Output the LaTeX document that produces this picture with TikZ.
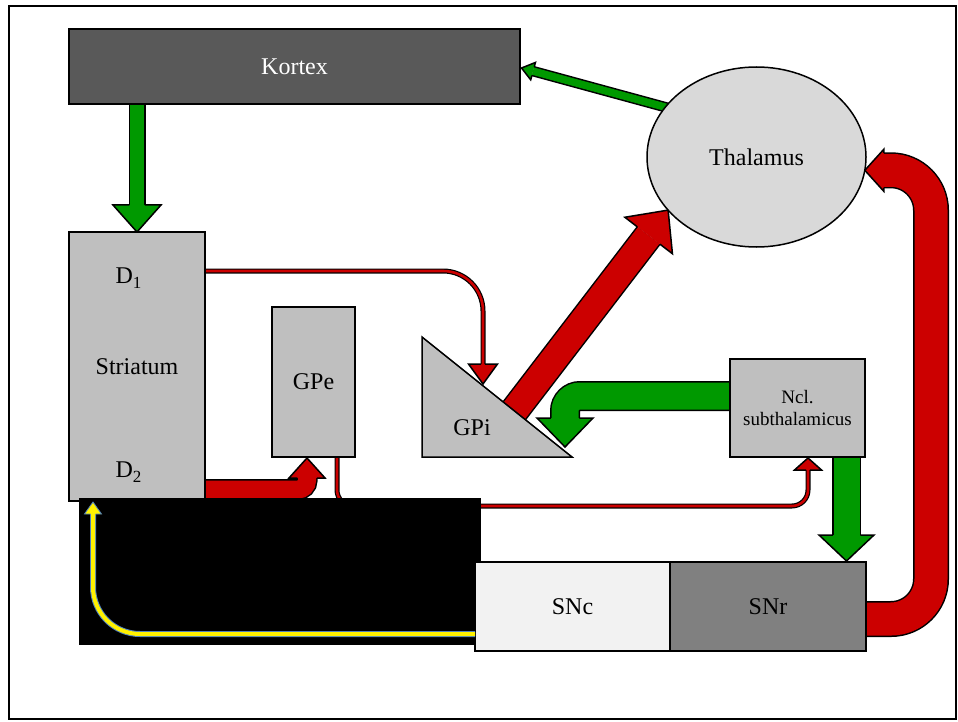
\documentclass[tikz,border=0pt]{standalone}
\usepackage{fontspec}
\setmainfont{Liberation Serif}
\usetikzlibrary{shapes.geometric,calc}
\pgfdeclarelayer{bg}
\pgfdeclarelayer{fg}
\pgfsetlayers{bg,main,fg}
\definecolor{kred}{HTML}{CC0000}
\definecolor{kgreen}{HTML}{009900}
\definecolor{boxgray}{HTML}{BFBFBF}
\definecolor{kortexgray}{HTML}{595959}
\definecolor{thalgray}{HTML}{D9D9D9}
\definecolor{sncgray}{HTML}{F2F2F2}
\definecolor{snrgray}{HTML}{808080}
\definecolor{yedge}{HTML}{4F81BD}
\newcommand{\labfont}{\fontsize{24}{28}\selectfont}
\newcommand{\nclfont}{\fontsize{19}{22}\selectfont}
\newcommand{\dsub}[1]{\raisebox{-5pt}{\fontsize{17}{20}\selectfont #1}}
% #1 fill colour, #2 head base, #3 tip, #4 shaft half width, #5 head half width
\newcommand{\ahead}[5]{\filldraw[fill=#1,draw=black,line width=1.5pt,line join=miter]
  ($(#2)!#4!90:(#3)$) -- ($(#2)!#5!90:(#3)$) -- (#3) -- ($(#2)!#5!-90:(#3)$) -- ($(#2)!#4!-90:(#3)$);}
\begin{document}
\begin{tikzpicture}[x=1pt,y=-1pt,
  every node/.style={inner sep=0pt,outer sep=0pt},
  box/.style={draw=black,line width=1.5pt,fill=boxgray,font=\labfont},
  txt/.style={font=\labfont},
  gpipe/.style={draw=black,line width=1.5pt,double=kgreen,double distance=#1},
  rpipe/.style={draw=black,line width=1.5pt,double=kred,double distance=#1},
  thinred/.style={draw=black,line width=1.2pt,double=kred,double distance=2.6pt},
  ypipe/.style={draw=yedge,line width=1pt,double=yellow,double distance=4pt}]
\useasboundingbox (0,0) rectangle (958,722);
\draw[line width=1.5pt] (9,6) rectangle (956,719);

% ---------- nodes ----------
\node[box,fill=kortexgray,text=white,minimum width=451pt,minimum height=75pt] (kortex) at (294.5,66.5) {Kortex};
\node[box,minimum width=136pt,minimum height=269pt] (striatum) at (137,366.5) {Striatum};
\node[txt,anchor=base] (d1) at (128.5,283) {D\dsub{1}};
\node[txt,anchor=base] (d2) at (128.5,477) {D\dsub{2}};
\node[box,minimum width=83pt,minimum height=150pt] (gpe) at (313.5,382) {GPe};
\node[ellipse,draw=black,line width=1.5pt,fill=thalgray,minimum width=219pt,minimum height=180pt,font=\labfont] (thal) at (756.5,157) {Thalamus};
\node[box,font=\nclfont,align=center,minimum width=135pt,minimum height=98pt] (ncl) at (797.5,408) {Ncl.\\subthalamicus};
\coordinate (gpitop) at (422,337);
\coordinate (gpibl) at (422,457);
\coordinate (gpibr) at (572,457);
\filldraw[fill=boxgray,draw=black,line width=1.5pt,line join=miter] (gpitop) -- (gpibl) -- (gpibr) -- cycle;
\node[txt] (gpi) at (472,428) {GPi};

\begin{pgfonlayer}{fg}
\fill[black] (79,498) rectangle (481,645);
\node[box,fill=sncgray,minimum width=195pt,minimum height=89pt] (snc) at (572.5,606.5) {SNc};
\node[box,fill=snrgray,minimum width=196pt,minimum height=89pt] (snr) at (768,606.5) {SNr};
% yellow arrow SNc -> Striatum
\coordinate (yt) at (93,502);
\coordinate (yw) at (93,514);
\draw[ypipe,rounded corners=47pt] (snc.west |- 0,634) -| (yw);
\filldraw[fill=yellow,draw=yedge,line width=0.8pt,line join=miter]
  ($(yw)!2.5pt!90:(yt)$) -- ($(yw)!8.5pt!90:(yt)$) -- (yt) -- ($(yw)!8.5pt!-90:(yt)$) -- ($(yw)!2.5pt!-90:(yt)$);
\end{pgfonlayer}

\begin{pgfonlayer}{bg}
% Kortex -> Striatum
\coordinate (a1t) at (striatum.north);
\coordinate (a1w) at ($(a1t)+(0,-27)$);
\draw[gpipe=14pt] (kortex.center -| a1t) -- (a1w);
\ahead{kgreen}{a1w}{a1t}{7.75pt}{24pt}
% Thalamus -> Kortex
\coordinate (a2s) at (672,109);
\coordinate (a2t) at ($(kortex.east)+(1.5,1.5)$);
\coordinate (a2w) at ($(a2t)!12pt!(a2s)$);
\draw[gpipe=7.5pt] (a2s) -- (a2w);
\ahead{kgreen}{a2w}{a2t}{4.5pt}{9pt}
% GPi -> Thalamus
\coordinate (a3t) at (thal.211);
\coordinate (a3s) at (508,419);
\coordinate (a3w) at ($(a3t)!32pt!(a3s)$);
\draw[rpipe=27pt] (a3s) -- (a3w);
\ahead{kred}{a3w}{a3t}{14.25pt}{30pt}
% Ncl -> GPi
\coordinate (a4w) at (565,418);
\coordinate (a4t) at (565,447);
\draw[gpipe=27pt,rounded corners=15pt] ($(ncl.west)+(8,-12)$) -| (a4w);
\ahead{kgreen}{a4w}{a4t}{14.25pt}{28pt}
% Ncl -> SNr
\coordinate (a5t) at (846.5,561);
\coordinate (a5w) at (846.5,535);
\draw[gpipe=26pt] (a5w |- ncl.center) -- (a5w);
\ahead{kgreen}{a5w}{a5t}{13.75pt}{27.5pt}
% D1 -> GPi
\coordinate (a6w) at (483,364);
\coordinate (a6t) at (483,384);
\draw[thinred,rounded corners=40pt] (striatum.center |- 0,271) -| (a6w);
\ahead{kred}{a6w}{a6t}{1.9pt}{14.5pt}
% GPe -> Ncl
\coordinate (a7w) at (808,470);
\coordinate (a7t) at (808,458);
\draw[thinred,rounded corners=16pt] (gpe.center -| 337,0) |- (808,506) -- (a7w);
\ahead{kred}{a7w}{a7t}{1.9pt}{13.5pt}
% D2 -> GPe
\coordinate (a8t) at (307,458);
\coordinate (a8w) at (307,478);
\draw[rpipe=18pt,rounded corners=9pt] (striatum.center |- 0,489.5) -| (a8w);
\ahead{kred}{a8w}{a8t}{9.75pt}{18pt}
% SNr -> Thalamus
\coordinate (a9t) at (thal.-7);
\coordinate (a9w) at ($(a9t)+(19,0)$);
\coordinate (u2) at (a9w -| 931,0);
\draw[rpipe=33pt,rounded corners=40pt] (snr.center |- 0,619) -| (u2) -- (a9w);
\ahead{kred}{a9w}{a9t}{17.25pt}{21pt}
\end{pgfonlayer}
\end{tikzpicture}
\end{document}
